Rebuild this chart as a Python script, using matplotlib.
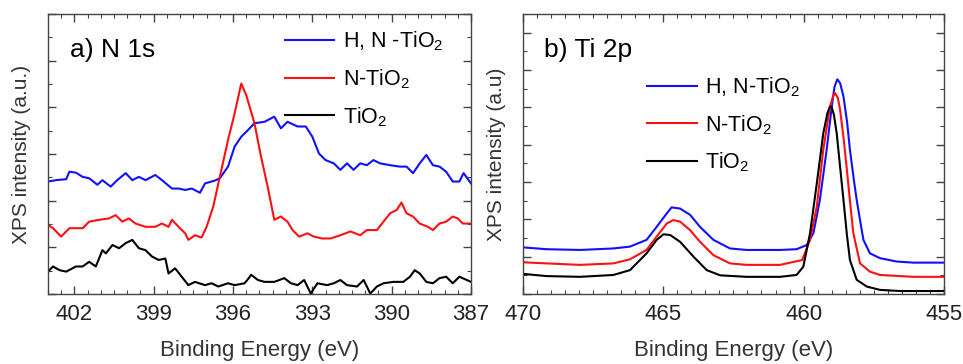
import numpy as np
import matplotlib
matplotlib.use("Agg")
import matplotlib.pyplot as plt
from matplotlib.ticker import MultipleLocator

plt.rcParams['font.family'] = ['Liberation Sans', 'DejaVu Sans']
plt.rcParams['mathtext.default'] = 'regular'

# ---- panel a) N 1s ----
n1s_hn_E = [403.0, 402.69, 402.31, 402.19, 401.94, 401.69, 401.44, 401.13, 400.94, 400.63,
            400.38, 400.06, 399.81, 399.56, 399.31, 398.94, 398.69, 398.31, 398.06, 397.81,
            397.56, 397.25, 397.06, 396.69, 396.5, 396.19, 395.94, 395.69, 395.44, 395.19,
            394.81, 394.44, 394.19, 393.94, 393.56, 393.25, 393.0, 392.75, 392.5, 392.19,
            391.94, 391.69, 391.44, 391.19, 390.94, 390.69, 390.44, 390.06, 389.69, 389.44,
            389.19, 388.94, 388.69, 388.44, 388.19, 387.94, 387.69, 387.44, 387.28, 387.0]
n1s_hn_I = [2.41, 2.44, 2.46, 2.62, 2.60, 2.51, 2.48, 2.34, 2.44, 2.30,
            2.44, 2.59, 2.44, 2.51, 2.44, 2.55, 2.44, 2.26, 2.26, 2.23,
            2.26, 2.17, 2.37, 2.43, 2.48, 2.73, 3.16, 3.37, 3.51, 3.66,
            3.69, 3.80, 3.55, 3.69, 3.59, 3.59, 3.37, 3.01, 2.87, 2.80,
            2.66, 2.80, 2.66, 2.80, 2.76, 2.87, 2.80, 2.76, 2.73, 2.73,
            2.59, 2.80, 2.98, 2.76, 2.73, 2.62, 2.41, 2.41, 2.59, 2.37]

n1s_n_E = [403.0, 402.81, 402.5, 402.19, 401.69, 401.44, 401.06, 400.69, 400.44, 400.19,
           399.94, 399.69, 399.31, 398.94, 398.69, 398.44, 398.31, 398.06, 397.81, 397.69,
           397.44, 397.19, 397.0, 396.75, 396.5, 396.19, 395.94, 395.69, 395.5, 395.19,
           394.94, 394.69, 394.44, 394.19, 393.94, 393.75, 393.5, 393.19, 392.94, 392.63,
           392.31, 391.94, 391.56, 391.19, 390.94, 390.56, 390.31, 390.06, 389.81, 389.63,
           389.44, 389.19, 388.94, 388.63, 388.44, 388.19, 387.94, 387.69, 387.5, 387.31, 387.0]
n1s_n_I = [1.48, 1.41, 1.23, 1.41, 1.41, 1.55, 1.59, 1.62, 1.69, 1.55,
           1.62, 1.51, 1.44, 1.44, 1.51, 1.44, 1.59, 1.44, 1.30, 1.16,
           1.26, 1.21, 1.44, 1.87, 2.51, 3.30, 3.87, 4.51, 4.26, 3.66,
           2.94, 2.30, 1.59, 1.66, 1.55, 1.37, 1.23, 1.30, 1.23, 1.19,
           1.19, 1.26, 1.34, 1.26, 1.37, 1.37, 1.55, 1.73, 1.80, 1.96,
           1.73, 1.66, 1.51, 1.44, 1.37, 1.51, 1.55, 1.66, 1.62, 1.51, 1.51]

n1s_ti_E = [403.0, 402.81, 402.56, 402.31, 401.94, 401.69, 401.44, 401.19, 400.94, 400.81,
            400.56, 400.31, 400.06, 399.81, 399.56, 399.31, 399.06, 398.81, 398.56, 398.44,
            398.19, 397.94, 397.69, 397.44, 397.06, 396.81, 396.56, 396.19, 395.94, 395.56,
            395.31, 395.06, 394.81, 394.44, 394.06, 393.81, 393.56, 393.31, 393.06, 392.81,
            392.44, 392.19, 391.94, 391.69, 391.31, 391.06, 390.81, 390.56, 390.31, 389.94,
            389.56, 389.31, 389.13, 388.94, 388.69, 388.44, 388.19, 387.94, 387.69, 387.44, 387.0]
n1s_ti_I = [0.48, 0.59, 0.51, 0.48, 0.59, 0.59, 0.69, 0.59, 0.94, 0.87,
            1.05, 0.98, 1.09, 1.16, 0.98, 0.94, 0.80, 0.73, 0.76, 0.44,
            0.55, 0.37, 0.19, 0.26, 0.19, 0.23, 0.16, 0.23, 0.19, 0.23,
            0.41, 0.30, 0.26, 0.26, 0.34, 0.23, 0.19, 0.30, 0.01, 0.23,
            0.19, 0.23, 0.30, 0.19, 0.16, 0.30, 0.01, 0.16, 0.23, 0.26,
            0.26, 0.37, 0.51, 0.44, 0.26, 0.23, 0.34, 0.37, 0.23, 0.37, 0.26]

# ---- panel b) Ti 2p ----
ti_hn_E = [470.0, 469.15, 467.96, 466.77, 466.18, 465.59, 465.23, 464.87, 464.70, 464.40,
           464.04, 463.69, 463.21, 462.62, 462.03, 461.43, 460.84, 460.25, 459.89, 459.65,
           459.42, 459.18, 459.0, 458.9, 458.8, 458.7, 458.58, 458.45, 458.35, 458.2,
           458.11, 457.95, 457.87, 457.64, 457.28, 456.69, 456.09, 455.0]
ti_hn_I = [1.25, 1.20, 1.18, 1.22, 1.27, 1.45, 1.80, 2.16, 2.32, 2.29,
           2.12, 1.80, 1.45, 1.22, 1.18, 1.18, 1.18, 1.20, 1.31, 1.63,
           2.52, 3.86, 5.00, 5.55, 5.75, 5.65, 5.29, 4.60, 3.86, 3.00,
           2.52, 1.80, 1.45, 1.09, 0.96, 0.87, 0.84, 0.84]

ti_n_E = [470.0, 469.15, 467.96, 466.77, 466.18, 465.59, 465.23, 464.87, 464.64, 464.40,
          464.04, 463.69, 463.21, 462.62, 462.03, 460.84, 460.05, 459.77, 459.53, 459.30,
          459.06, 458.95, 458.88, 458.78, 458.70, 458.58, 458.47, 458.35, 458.23, 457.99,
          457.64, 457.28, 456.09, 455.0]
ti_n_I = [0.85, 0.82, 0.78, 0.82, 0.93, 1.18, 1.54, 1.89, 1.98, 1.94,
          1.71, 1.40, 1.04, 0.82, 0.78, 0.78, 0.91, 1.45, 2.34, 3.86,
          5.02, 5.30, 5.38, 5.25, 4.93, 4.20, 3.41, 2.50, 1.63, 0.82,
          0.60, 0.51, 0.46, 0.46]

ti_ti_E = [470.0, 469.15, 467.96, 466.77, 466.18, 465.59, 465.23, 464.99, 464.75, 464.40,
           463.92, 463.45, 462.97, 462.03, 460.84, 460.25, 460.01, 459.77, 459.53, 459.30,
           459.15, 459.06, 459.0, 458.92, 458.82, 458.70, 458.58, 458.46, 458.35, 458.11,
           457.75, 457.28, 456.57, 455.0]
ti_ti_I = [0.54, 0.48, 0.46, 0.51, 0.64, 1.09, 1.45, 1.60, 1.58, 1.40,
           1.00, 0.64, 0.50, 0.46, 0.46, 0.51, 0.73, 1.63, 2.96, 4.30,
           4.85, 5.02, 5.00, 4.80, 4.30, 3.40, 2.52, 1.60, 0.91, 0.38,
           0.20, 0.11, 0.08, 0.08]

labels_a = ['H, N -TiO$_2$', 'N-TiO$_2$', 'TiO$_2$']
labels_b = ['H, N-TiO$_2$', 'N-TiO$_2$', 'TiO$_2$']
colors = ['#1010ff', '#ff1010', 'black']


def style_axis(ax, xmaj, xmin, ymaj, ymin):
    ax.xaxis.set_major_locator(MultipleLocator(xmaj))
    ax.xaxis.set_minor_locator(MultipleLocator(xmin))
    ax.yaxis.set_major_locator(MultipleLocator(ymaj))
    ax.yaxis.set_minor_locator(MultipleLocator(ymin))
    ax.tick_params(which='both', direction='in', top=True, right=True, labelsize=16,
                   color='#444444', labelcolor='#222222')
    ax.tick_params(which='major', length=6, width=1, pad=7)
    ax.tick_params(which='minor', length=3, width=0.8)
    ax.set_yticklabels([])
    for s in ax.spines.values():
        s.set_color('#444444')
        s.set_linewidth(1)
    ax.set_xlabel('Binding Energy (eV)', fontsize=16, color='#333333', labelpad=11)


fig = plt.figure(figsize=(9.63, 3.64), dpi=100)

ax1 = fig.add_axes([0.0498, 0.1923, 0.4393, 0.7692])
ax1.plot(n1s_hn_E, n1s_hn_I, color=colors[0], lw=1.5, label=labels_a[0])
ax1.plot(n1s_n_E, n1s_n_I, color=colors[1], lw=1.5, label=labels_a[1])
ax1.plot(n1s_ti_E, n1s_ti_I, color=colors[2], lw=1.5, label=labels_a[2])
ax1.set_xlim(403, 387)
ax1.set_ylim(0, 6)
style_axis(ax1, 3, 0.5, 1, 0.5)
ax1.set_ylabel('XPS intensity (a.u.)', fontsize=15, color='#333333', labelpad=5)
ax1.text(0.052, 0.87, 'a) N 1s', transform=ax1.transAxes, fontsize=19, va='center')
ax1.legend(loc='upper left', bbox_to_anchor=(0.56, 0.945), frameon=False, fontsize=15.5,
           handlelength=2.3, labelspacing=0.66, handletextpad=0.4,
           borderpad=0, borderaxespad=0)

ax2 = fig.add_axes([0.5428, 0.1923, 0.4375, 0.7692])
ax2.plot(ti_hn_E, ti_hn_I, color=colors[0], lw=1.5, label=labels_b[0])
ax2.plot(ti_n_E, ti_n_I, color=colors[1], lw=1.5, label=labels_b[1])
ax2.plot(ti_ti_E, ti_ti_I, color=colors[2], lw=1.5, label=labels_b[2])
ax2.set_xlim(470, 455)
ax2.set_ylim(0, 7.5)
style_axis(ax2, 5, 0.5, 1, 0.5)
ax2.set_ylabel('XPS intensity (a.u)', fontsize=15, color='#333333', labelpad=5)
ax2.text(0.05, 0.87, 'b) Ti 2p', transform=ax2.transAxes, fontsize=19, va='center')
ax2.legend(loc='upper left', bbox_to_anchor=(0.295, 0.78), frameon=False, fontsize=15.5,
           handlelength=2.3, labelspacing=0.64, handletextpad=0.4,
           borderpad=0, borderaxespad=0)

fig.savefig('out.png', dpi=100)
